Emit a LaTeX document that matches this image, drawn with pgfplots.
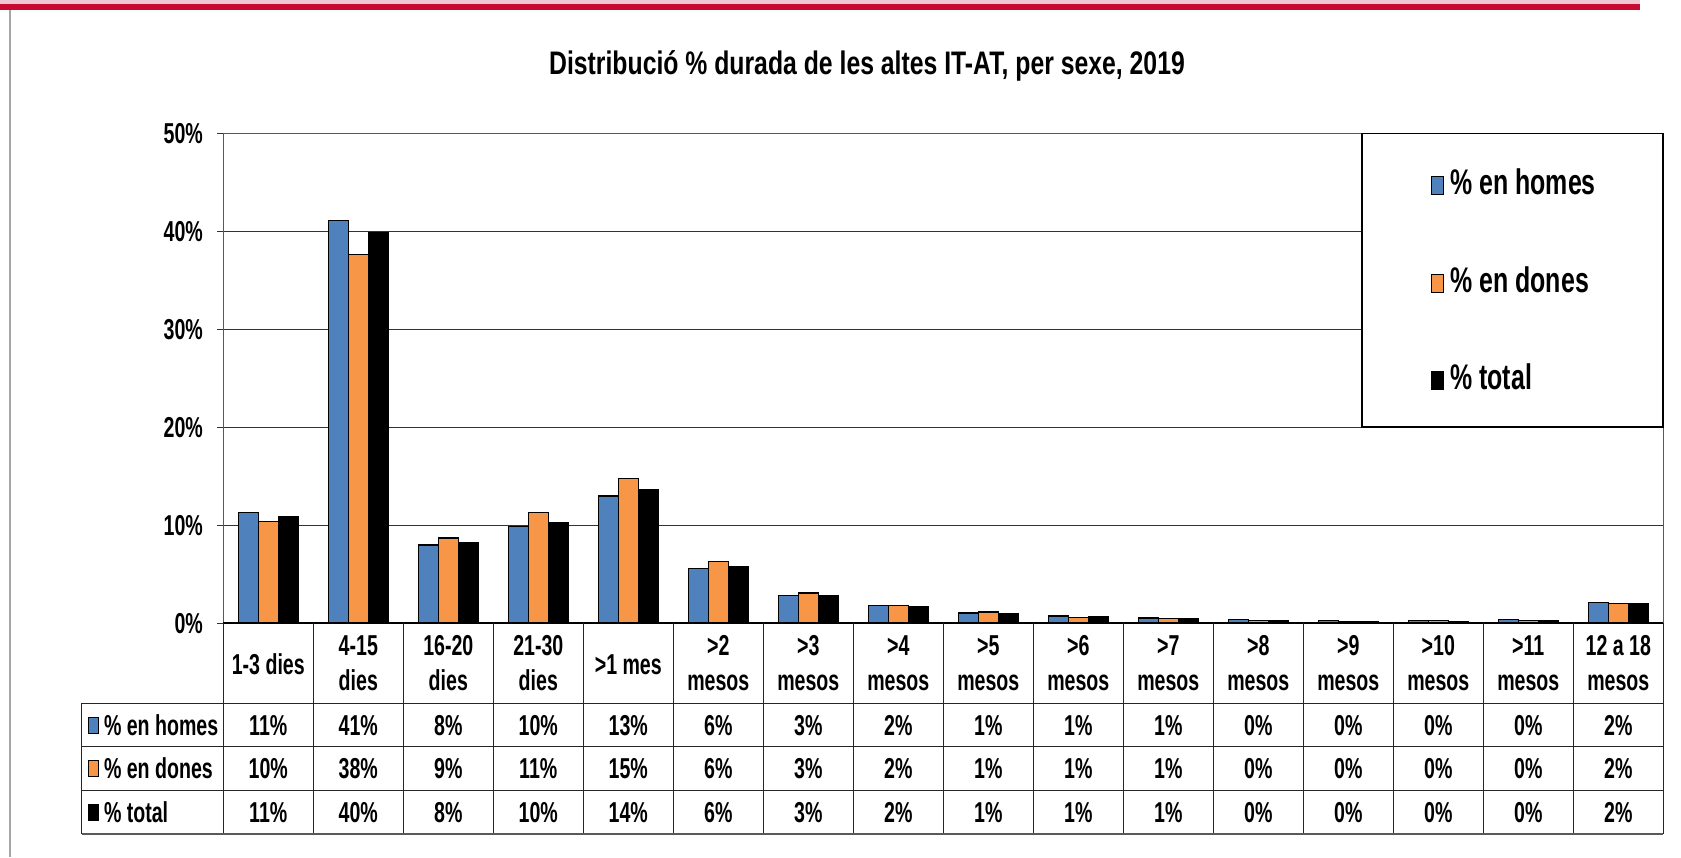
\documentclass[border=0pt]{standalone}
\usepackage{pgfplots}
\pgfplotsset{compat=1.18}
\usepackage{pgfplotstable}
\usepackage{fontspec}
\setmainfont{Liberation Sans}
\newfontfamily\nar{Liberation Sans}[FakeStretch=0.68]
\newfontfamily\leg{Liberation Sans}[FakeStretch=0.70]
\newfontfamily\tit{Liberation Sans}[FakeStretch=0.76]
\definecolor{cblue}{HTML}{4F81BD}
\definecolor{corange}{HTML}{F79646}
\definecolor{cred}{RGB}{200,10,50}
\definecolor{cpink}{RGB}{240,200,210}

\pgfplotstableread{
x homes dones total
0 11.3 10.4 10.9
1 41.1 37.6 39.9
2 8.0 8.7 8.2
3 9.9 11.3 10.3
4 13.0 14.8 13.6
5 5.6 6.3 5.8
6 2.8 3.1 2.8
7 1.8 1.8 1.7
8 1.05 1.15 1.0
9 0.75 0.6 0.68
10 0.55 0.52 0.45
11 0.35 0.32 0.3
12 0.28 0.22 0.2
13 0.28 0.27 0.2
14 0.35 0.3 0.27
15 2.15 2.0 2.05
}\data

\newcommand{\tf}{\nar\bfseries\fontsize{14.4pt}{17.5pt}\selectfont}

\begin{document}
\begin{tikzpicture}
\begin{scope}[x=0.5pt,y=-0.5pt]
\path[use as bounding box] (0,0) rectangle (1681,857);
\fill[white] (0,0) rectangle (1681,857);
% frame decorations
\fill[cpink] (0,0) rectangle (1640,4);
\fill[cred] (0,4) rectangle (1640,10);
\draw[gray!70, line width=1pt] (10,10) -- (10,857);
% title
\node[anchor=base, inner sep=0pt, font=\tit\bfseries\fontsize{16.3pt}{19pt}\selectfont] at (867,74) {Distribució \% durada de les altes IT-AT, per sexe, 2019};
\end{scope}

\begin{axis}[
  at={(111.65pt,-311.65pt)}, anchor=south west,
  width=720pt, height=245pt, scale only axis,
  xmin=-0.5, xmax=15.5, ymin=0, ymax=50,
  ybar=0pt, bar width=9.9pt,
  axis line style={draw=black!65, line width=0.6pt},
  ymajorgrids, grid style={black!80, line width=0.6pt},
  ytick={0,10,...,50},
  yticklabel={\pgfmathprintnumber{\tick}\%},
  /pgf/number format/assume math mode=true,
  yticklabel style={font=\tf, inner sep=0pt, xshift=-7pt},
  xtick=\empty,
  ytick pos=left, tick align=outside, major tick length=3pt,
  ytick style={black!80, line width=0.6pt},
  enlargelimits=false,
]
\addplot[fill=cblue, draw=black, line width=0.6pt] table[x=x, y=homes] {\data};
\addplot[fill=corange, draw=black, line width=0.6pt] table[x=x, y=dones] {\data};
\addplot[fill=black, draw=black, line width=0.6pt] table[x=x, y=total] {\data};
\end{axis}

\begin{scope}[x=0.5pt,y=-0.5pt]
% baseline
\draw[black, line width=1pt] (223.3,623.3) -- (1663.3,623.3);
% table grid
\foreach \i in {0,...,16} {
  \draw[black!85, line width=0.6pt] ({223.3+90*\i},623.3) -- ({223.3+90*\i},834);
}
\draw[black!85, line width=0.6pt] (81.7,703.3) -- (81.7,834);
\foreach \yy in {703.3,746.7,790.3} {
  \draw[black!85, line width=0.6pt] (81.7,\yy) -- (1663.3,\yy);
}
\draw[black!65, line width=1pt] (81.7,834) -- (1663.3,834);
% category labels
\foreach \i/\a/\b in {0/1-3 dies/,1/4-15/dies,2/16-20/dies,3/21-30/dies,4/>1 mes/,5/>2/mesos,6/>3/mesos,7/>4/mesos,8/>5/mesos,9/>6/mesos,10/>7/mesos,11/>8/mesos,12/>9/mesos,13/>10/mesos,14/>11/mesos,15/12 a 18/mesos} {
  \if\relax\detokenize\expandafter{\b}\relax
    \node[anchor=base, inner sep=0pt, font=\tf] at ({268.3+90*\i},674) {\a};
  \else
    \node[anchor=base, inner sep=0pt, font=\tf] at ({268.3+90*\i},655) {\a};
    \node[anchor=base, inner sep=0pt, font=\tf] at ({268.3+90*\i},690) {\b};
  \fi
}
% row headers
\foreach \yc/\col/\lab in {725/cblue/\% en homes, 768.5/corange/\% en dones, 812/black/\% total} {
  \filldraw[fill=\col, draw=black, line width=0.5pt] (88,\yc-8) rectangle (98,\yc+8);
  \node[anchor=base west, inner sep=0pt, font=\tf] at (103.6,\yc+10) {\lab};
}
% values
\foreach \i/\a/\b/\c in {0/11/10/11,1/41/38/40,2/8/9/8,3/10/11/10,4/13/15/14,5/6/6/6,6/3/3/3,7/2/2/2,8/1/1/1,9/1/1/1,10/1/1/1,11/0/0/0,12/0/0/0,13/0/0/0,14/0/0/0,15/2/2/2} {
  \node[anchor=base, inner sep=0pt, font=\tf] at ({268.3+90*\i},735) {\a\%};
  \node[anchor=base, inner sep=0pt, font=\tf] at ({268.3+90*\i},778.5) {\b\%};
  \node[anchor=base, inner sep=0pt, font=\tf] at ({268.3+90*\i},822) {\c\%};
}
% legend
\filldraw[fill=white, draw=black, line width=0.6pt] (1362,133.3) rectangle (1663,427);
\foreach \yb/\col/\lab in {194/cblue/\% en homes, 292/corange/\% en dones, 389/black/\% total} {
  \filldraw[fill=\col, draw=black, line width=0.5pt] (1431,\yb-18) rectangle (1443,\yb);
  \node[anchor=base west, inner sep=0pt, font=\leg\bfseries\fontsize{17.8pt}{20pt}\selectfont] at (1450,\yb) {\lab};
}
\end{scope}
\end{tikzpicture}
\end{document}
